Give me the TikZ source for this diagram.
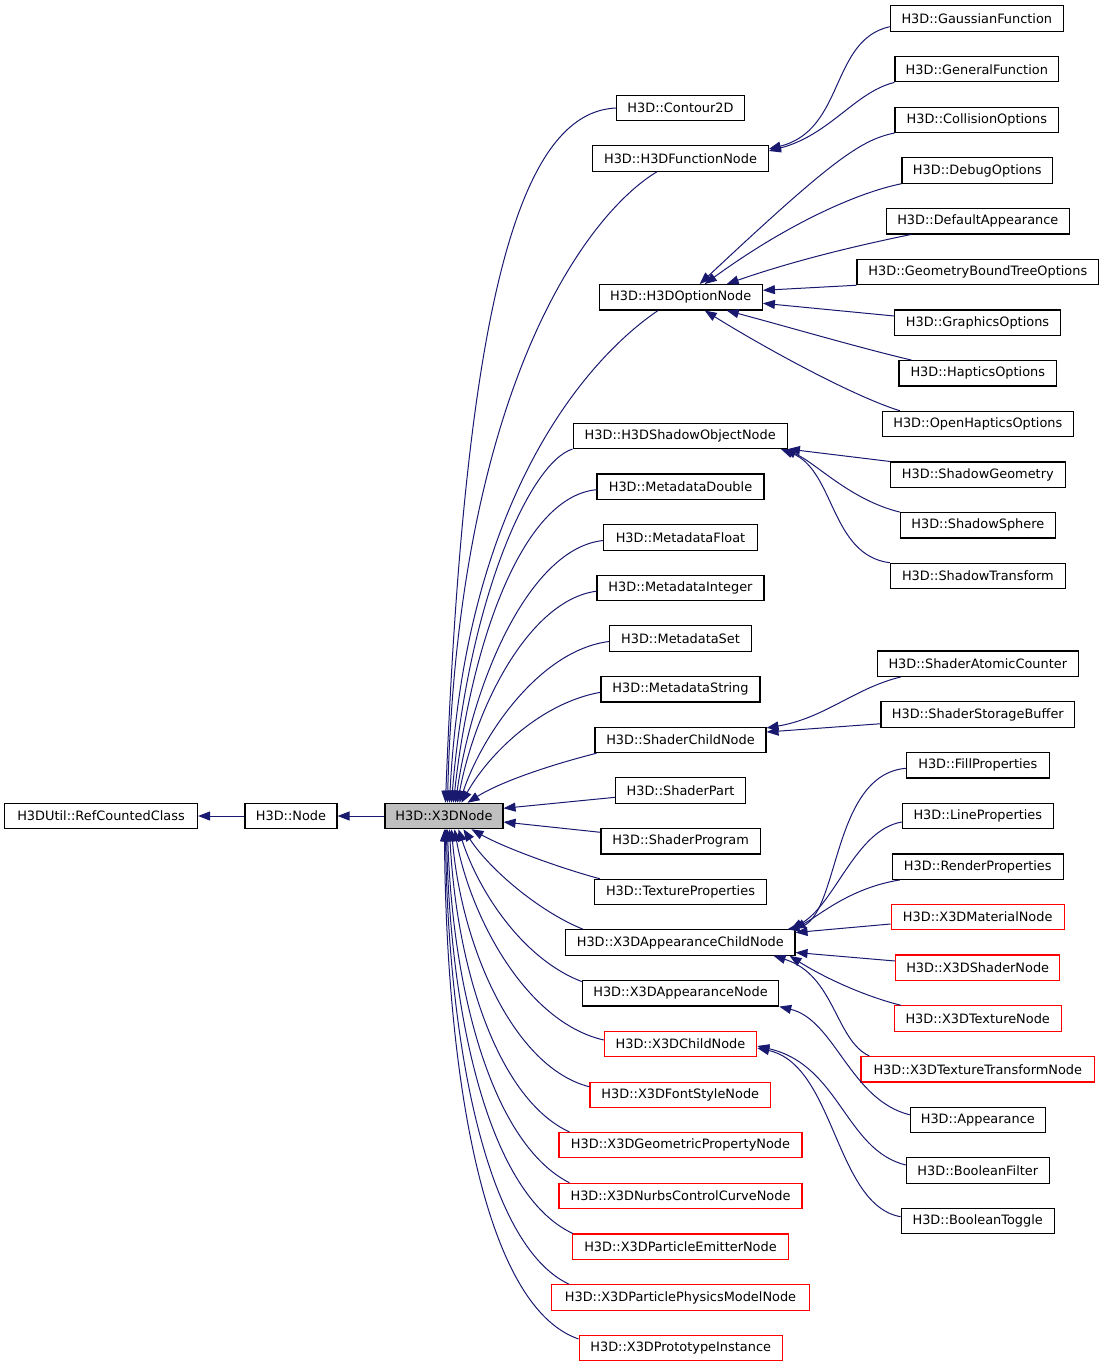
\documentclass[tikz,border=0pt]{standalone}
\usepackage{fontspec}
\setmainfont{DejaVu Sans}
\usetikzlibrary{arrows.meta}
\definecolor{edgeblue}{HTML}{191970}
\definecolor{nodegray}{HTML}{BFBFBF}
\begin{document}
\begin{tikzpicture}[x=1pt,y=-1pt,
  box/.style={draw=black, line width=1.1pt, fill=white, inner sep=0pt, minimum height=25.4pt, font=\fontsize{12.9}{15}\selectfont, text=black},
  redbox/.style={box, draw=red},
  edge/.style={draw=edgeblue, line width=1pt, -{Triangle[length=12pt,width=9pt]}},
]
\useasboundingbox (0,0) rectangle (1104,1367);
% left chain
\node[box, minimum width=193pt] (rcc) at (101,816) {H3DUtil::RefCountedClass};
\node[box, minimum width=92pt] (node) at (291,816) {H3D::Node};
\node[box, fill=nodegray, minimum width=118pt] (x3d) at (444,816) {H3D::X3DNode};
% middle column
\node[box, minimum width=127.6pt] (contour) at (680.5,108) {H3D::Contour2D};
\node[box, minimum width=175.6pt] (func) at (680.5,158.5) {H3D::H3DFunctionNode};
\node[box, minimum width=163.3pt] (option) at (680.7,297.3) {H3D::H3DOptionNode};
\node[box, minimum width=214.3pt] (shadowobj) at (680.2,435.8) {H3D::H3DShadowObjectNode};
\node[box, minimum width=167pt] (mdouble) at (680.5,486.7) {H3D::MetadataDouble};
\node[box, minimum width=153.6pt] (mfloat) at (680.5,537.5) {H3D::MetadataFloat};
\node[box, minimum width=167pt] (mint) at (680.5,588.2) {H3D::MetadataInteger};
\node[box, minimum width=141.6pt] (mset) at (680.5,638.5) {H3D::MetadataSet};
\node[box, minimum width=159pt] (mstring) at (680.5,689.3) {H3D::MetadataString};
\node[box, minimum width=171pt] (shchild) at (680.5,740) {H3D::ShaderChildNode};
\node[box, minimum width=129.6pt] (shpart) at (680.5,790.6) {H3D::ShaderPart};
\node[box, minimum width=159.3pt] (shprog) at (680.6,841.3) {H3D::ShaderProgram};
\node[box, minimum width=172.4pt] (texprop) at (680.5,892) {H3D::TextureProperties};
\node[box, minimum width=229.3pt] (appchild) at (680.3,942.5) {H3D::X3DAppearanceChildNode};
\node[box, minimum width=196.4pt] (appnode) at (680.5,993.3) {H3D::X3DAppearanceNode};
\node[redbox, minimum width=152.4pt] (child) at (680.5,1044) {H3D::X3DChildNode};
\node[redbox, minimum width=180.7pt] (font) at (680.3,1095) {H3D::X3DFontStyleNode};
\node[redbox, minimum width=243pt] (geom) at (680.5,1145.2) {H3D::X3DGeometricPropertyNode};
\node[redbox, minimum width=243pt] (nurbs) at (680.5,1196) {H3D::X3DNurbsControlCurveNode};
\node[redbox, minimum width=216.4pt] (emitter) at (680.5,1246.7) {H3D::X3DParticleEmitterNode};
\node[redbox, minimum width=257.6pt] (physics) at (680.5,1297.5) {H3D::X3DParticlePhysicsModelNode};
\node[redbox, minimum width=203.3pt] (proto) at (680.7,1348.2) {H3D::X3DPrototypeInstance};
% right column
\node[box, minimum width=173pt] (gauss) at (976.8,18.5) {H3D::GaussianFunction};
\node[box, minimum width=163.7pt] (general) at (976.8,69.2) {H3D::GeneralFunction};
\node[box, minimum width=163.7pt] (collision) at (976.8,119.8) {H3D::CollisionOptions};
\node[box, minimum width=150.7pt] (debug) at (977.3,170.5) {H3D::DebugOptions};
\node[box, minimum width=183pt] (defapp) at (977.8,221.3) {H3D::DefaultAppearance};
\node[box, minimum width=241.7pt] (gbt) at (977.8,272) {H3D::GeometryBoundTreeOptions};
\node[box, minimum width=165.6pt] (graphics) at (977.5,322.7) {H3D::GraphicsOptions};
\node[box, minimum width=157.7pt] (haptics) at (977.8,373.3) {H3D::HapticsOptions};
\node[box, minimum width=191pt] (openh) at (977.8,424) {H3D::OpenHapticsOptions};
\node[box, minimum width=175pt] (sgeom) at (977.8,474.7) {H3D::ShadowGeometry};
\node[box, minimum width=155pt] (ssphere) at (977.8,525.3) {H3D::ShadowSphere};
\node[box, minimum width=175pt] (strans) at (977.8,576) {H3D::ShadowTransform};
\node[box, minimum width=201pt] (satomic) at (977.8,663.7) {H3D::ShaderAtomicCounter};
\node[box, minimum width=193.7pt] (sstorage) at (977.8,714.5) {H3D::ShaderStorageBuffer};
\node[box, minimum width=143pt] (fill) at (977.8,765.3) {H3D::FillProperties};
\node[box, minimum width=151pt] (line) at (977.8,816) {H3D::LineProperties};
\node[box, minimum width=171pt] (render) at (977.8,866.7) {H3D::RenderProperties};
\node[redbox, minimum width=173.3pt] (material) at (977.7,917) {H3D::X3DMaterialNode};
\node[redbox, minimum width=164pt] (shadernode) at (977.7,967.7) {H3D::X3DShaderNode};
\node[redbox, minimum width=166.7pt] (texnode) at (977.7,1018.5) {H3D::X3DTextureNode};
\node[redbox, minimum width=233.7pt] (textrans) at (977.8,1069.3) {H3D::X3DTextureTransformNode};
\node[box, minimum width=135pt] (appearance) at (977.8,1119.8) {H3D::Appearance};
\node[box, minimum width=143pt] (bfilter) at (977.8,1170.5) {H3D::BooleanFilter};
\node[box, minimum width=153.3pt] (btoggle) at (977.7,1221.2) {H3D::BooleanToggle};

% left chain edges
\draw[edge] (x3d.west) -- (node.east);
\draw[edge] (node.west) -- (rcc.east);

% upper edges into X3DNode
\draw[edge] (contour.west) .. controls (520,112) and (465,300) .. ([xshift=61pt]x3d.north west);
\draw[edge] ([xshift=-23.5pt]func.south) .. controls (585,215) and (458,390) .. ([xshift=63pt]x3d.north west);
\draw[edge] ([xshift=-22.7pt]option.south) .. controls (585,360) and (465,500) .. ([xshift=65pt]x3d.north west);
\draw[edge] (shadowobj.south west) .. controls (530,462) and (468,600) .. ([xshift=67pt]x3d.north west);
\draw[edge] ([yshift=-3pt]mdouble.west) .. controls (520,497) and (470,650) .. ([xshift=69pt]x3d.north west);
\draw[edge] ([yshift=-3pt]mfloat.west) .. controls (530,548) and (473,680) .. ([xshift=71pt]x3d.north west);
\draw[edge] ([yshift=-3pt]mint.west) .. controls (530,600) and (476,705) .. ([xshift=73pt]x3d.north west);
\draw[edge] ([yshift=-3pt]mset.west) .. controls (540,650) and (482,735) .. ([xshift=75pt]x3d.north west);
\draw[edge] ([yshift=-3pt]mstring.west) .. controls (540,703) and (488,755) .. ([xshift=77pt]x3d.north west);
\draw[edge] ([xshift=2pt]shchild.south west) .. controls (550,765) and (500,782) .. ([xshift=83pt]x3d.north west);
% side edges
\draw[edge] ([yshift=-6.7pt]shpart.west) -- ([yshift=7.7pt]x3d.east);
\draw[edge] ([yshift=9pt]shprog.west) -- ([yshift=-6pt]x3d.east);
% lower edges into X3DNode
\draw[edge] ([xshift=6pt]texprop.north west) .. controls (560,868) and (505,848) .. ([xshift=87pt]x3d.south west);
\draw[edge] ([xshift=18pt]appchild.north west) .. controls (540,912) and (490,870) .. ([xshift=79pt]x3d.south west);
\draw[edge] ([yshift=-1.5pt]appnode.north west) .. controls (525,960) and (480,895) .. ([xshift=74pt]x3d.south west);
\draw[edge] ([yshift=4pt]child.west) .. controls (525,1022) and (470,915) .. ([xshift=70pt]x3d.south west);
\draw[edge] ([yshift=-5pt]font.north west) .. controls (515,1068) and (462,950) .. ([xshift=67pt]x3d.south west);
\draw[edge] ([xshift=11pt]geom.north west) .. controls (500,1100) and (457,975) .. ([xshift=65pt]x3d.south west);
\draw[edge] ([xshift=11pt]nurbs.north west) .. controls (495,1145) and (453,1000) .. ([xshift=63pt]x3d.south west);
\draw[edge] ([xshift=1pt]emitter.north west) .. controls (490,1195) and (450,1020) .. ([xshift=62pt]x3d.south west);
\draw[edge] ([xshift=18pt]physics.north west) .. controls (485,1245) and (448,1040) .. ([xshift=61pt]x3d.south west);
\draw[edge] ([yshift=-4pt]proto.north west) .. controls (480,1305) and (446,1060) .. ([xshift=60pt]x3d.south west);

% function node
\draw[edge] ([yshift=-8.2pt]gauss.west) .. controls (830,40) and (845,130) .. ([yshift=9.5pt]func.east);
\draw[edge] (general.south west) .. controls (855,92) and (830,135) .. ([yshift=7.5pt]func.east);
% option node
\draw[edge] (collision.south west) .. controls (860,140) and (830,162) .. ([xshift=19pt]option.north);
\draw[edge] (debug.south west) .. controls (860,192) and (790,222) .. ([xshift=24pt]option.north);
\draw[edge] ([xshift=25pt]defapp.south west) .. controls (850,247) and (790,262) .. ([xshift=46pt]option.north);
\draw[edge] (gbt.south west) -- ([yshift=7pt]option.east);
\draw[edge] ([yshift=6.7pt]graphics.west) -- ([yshift=-6pt]option.east);
\draw[edge] ([xshift=13pt]haptics.north west) .. controls (860,348) and (785,326) .. ([xshift=46pt]option.south);
\draw[edge] ([xshift=18pt]openh.north west) .. controls (850,395) and (760,345) .. ([xshift=24pt]option.south);
% shadow object node
\draw[edge] (sgeom.north west) -- (shadowobj.south east);
\draw[edge] (ssphere.north west) .. controls (850,500) and (815,462) .. ([xshift=-4pt]shadowobj.south east);
\draw[edge] (strans.north west) .. controls (830,555) and (835,470) .. ([xshift=-7pt]shadowobj.south east);
% shader child node
\draw[edge] ([xshift=24pt]satomic.south west) .. controls (855,688) and (825,718) .. ([yshift=12pt]shchild.east);
\draw[edge] ([yshift=4pt]sstorage.south west) -- ([yshift=8pt]shchild.east);
% appearance child node
\draw[edge] ([yshift=-3pt]fill.west) .. controls (830,775) and (840,920) .. ([xshift=-8pt]appchild.north east);
\draw[edge] ([yshift=-6pt]line.west) .. controls (855,830) and (835,905) .. ([xshift=-5pt]appchild.north east);
\draw[edge] ([xshift=8pt]render.south west) .. controls (850,888) and (820,915) .. ([xshift=-2pt]appchild.north east);
\draw[edge] ([yshift=-7pt]material.west) -- ([yshift=10pt]appchild.east);
\draw[edge] ([yshift=6.7pt]shadernode.west) -- ([yshift=-10pt]appchild.east);
\draw[edge] ([xshift=7pt]texnode.north west) .. controls (860,995) and (820,975) .. ([xshift=-6pt]appchild.south east);
\draw[edge] ([xshift=9pt]textrans.north west) .. controls (835,1040) and (835,975) .. ([xshift=-22pt]appchild.south east);
% appearance node
\draw[edge] ([yshift=5pt]appearance.west) .. controls (850,1100) and (835,1020) .. (appnode.south east);
% child node
\draw[edge] ([yshift=5.5pt]bfilter.west) .. controls (845,1150) and (840,1065) .. ([yshift=-2pt]child.east);
\draw[edge] ([yshift=4.5pt]btoggle.west) .. controls (835,1205) and (835,1065) .. ([yshift=-4pt]child.east);
\end{tikzpicture}
\end{document}
